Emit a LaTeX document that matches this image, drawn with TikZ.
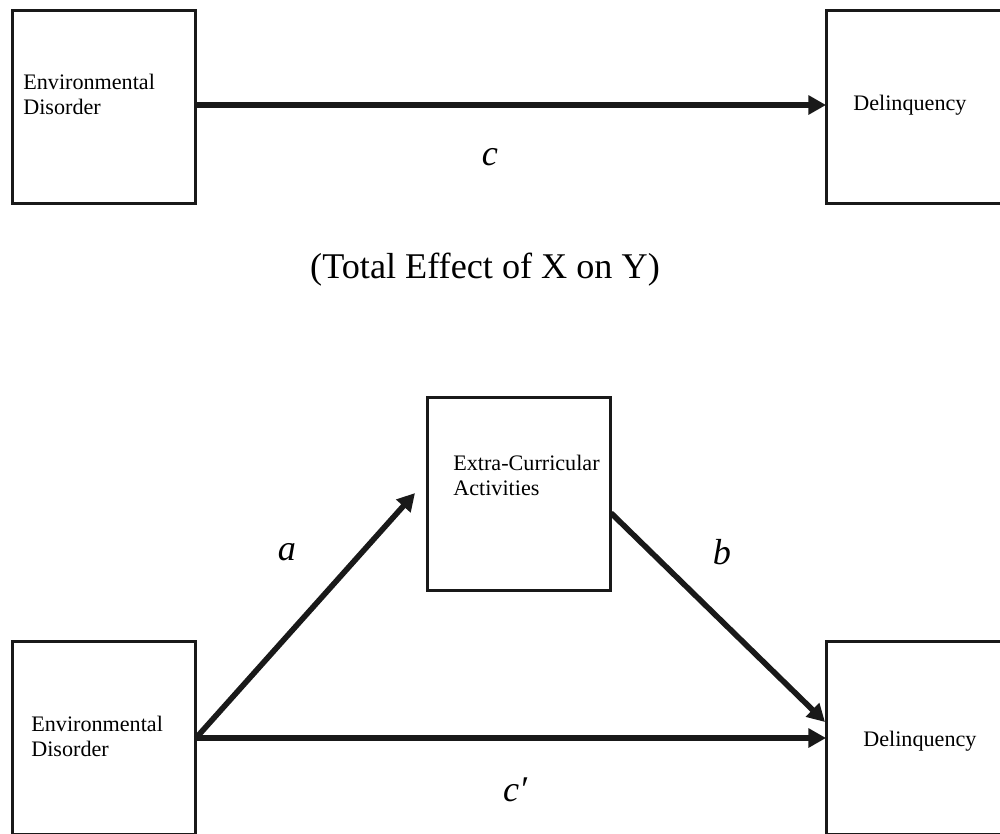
\documentclass[tikz,border=0pt]{standalone}
\usepackage{fontspec}
\setmainfont{Liberation Serif}
\usetikzlibrary{arrows.meta}
\begin{document}
\begin{tikzpicture}[x=0.02cm,y=-0.02cm,
  box/.style={draw=black!90, line width=1.7pt, minimum width=3.68cm, minimum height=3.86cm, inner sep=0pt, outer sep=0pt},
  lbl/.style={anchor=west, inner sep=0pt, align=left, font=\fontsize{12.6}{14.2}\selectfont},
  coef/.style={inner sep=0pt, font=\fontsize{20.6}{24}\selectfont\itshape},
  arr/.style={line width=3.2pt, black!90, -{Triangle[length=10pt,width=10.5pt]}}]
\useasboundingbox (0,0) rectangle (1000,833);
\clip (0,0) rectangle (1000,833);
% top panel
\node[box] (X1) at (104,107) {};
\node[box] (Y1) at (918,107) {};
\node[lbl] (tx1) at (23,94) {Environmental\\Disorder};
\node[lbl] (ty1) at (853,105) {Delinquency};
\draw[arr] (X1.east |- 0,105) coordinate (cS) -- (Y1.west |- cS);
\node[coef] (lc) at (490,157) {c};
\node[inner sep=0pt, font=\fontsize{20.6}{24}\selectfont] (title) at (485,270) {(Total Effect of X on Y)};
% bottom panel
\node[box] (M) at (519,494) {};
\node[box] (X2) at (104,738) {};
\node[box] (Y2) at (918,738) {};
\node[lbl] (tm) at (453,475) {Extra-Curricular\\Activities};
\node[lbl] (tx2) at (31,736) {Environmental\\Disorder};
\node[lbl] (ty2) at (863,741) {Delinquency};
\coordinate (aE) at (415,493);
\coordinate (bS) at (611,513);
\coordinate (bE) at (825,722);
\draw[arr] (X2.east) -- (aE);
\draw[arr] (bS) -- (bE);
\draw[arr] (X2.east) -- (Y2.west);
\node[coef] (la) at (287,552) {a};
\node[coef] (lb) at (722,552) {b};
\node[coef] (lcp) at (515,790) {c′};
\end{tikzpicture}
\end{document}
